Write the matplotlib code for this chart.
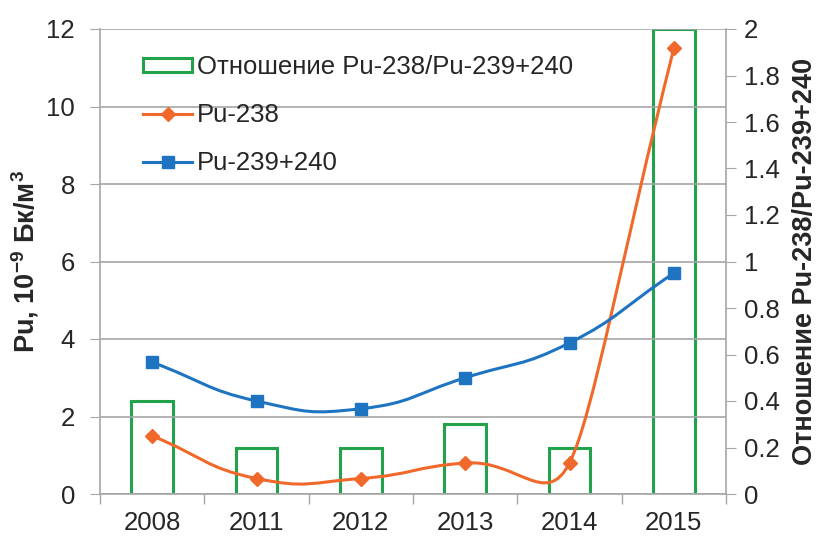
import matplotlib
matplotlib.use('Agg')
import matplotlib.pyplot as plt
import numpy as np
from matplotlib.path import Path
from matplotlib.patches import PathPatch, Patch
from matplotlib.lines import Line2D

plt.rcParams['font.family'] = ['Liberation Sans', 'DejaVu Sans']
plt.rcParams['mathtext.fontset'] = 'custom'
plt.rcParams['mathtext.rm'] = 'Liberation Sans'
plt.rcParams['mathtext.bf'] = 'Liberation Sans:bold'

# data
years = ['2008', '2011', '2012', '2013', '2014', '2015']
ratio = [0.4, 0.2, 0.2, 0.3, 0.2, 2.0]
pu238 = [1.5, 0.4, 0.4, 0.8, 0.8, 11.5]
pu239_240 = [3.4, 2.4, 2.2, 3.0, 3.9, 5.7]

GREEN = '#22a24a'
ORANGE = '#f0682a'
BLUE = '#1f74c2'
GRAY = '#a6a6a6'
TXT = '#262626'


def smooth_path(ax, x, y, s=0.5):
    """Excel-like smoothed line, bezier segments built in screen space."""
    pts = ax.transData.transform(np.column_stack([x, y]))
    n = len(pts)
    seg = [np.hypot(*(pts[i + 1] - pts[i])) for i in range(n - 1)]
    tang, arm = [], []
    for i in range(n):
        d = pts[min(i + 1, n - 1)] - pts[max(i - 1, 0)]
        tang.append(d / np.hypot(*d))
        near = [seg[j] for j in (i - 1, i) if 0 <= j < n - 1]
        arm.append(s * min(near))
    verts = [pts[0]]
    codes = [Path.MOVETO]
    for i in range(n - 1):
        verts += [pts[i] + tang[i] * arm[i], pts[i + 1] - tang[i + 1] * arm[i + 1], pts[i + 1]]
        codes += [Path.CURVE4] * 3
    verts = ax.transData.inverted().transform(np.array(verts))
    return Path(verts, codes)


fig = plt.figure(figsize=(8.23, 5.40), dpi=100)
ax_r = fig.add_axes([100 / 823, 46 / 540, 626 / 823, 465 / 540])
ax_p = ax_r.twinx()

x = np.arange(len(years))

# ratio bars (right axis)
ax_r.bar(x, ratio, width=0.4, facecolor='none', edgecolor=GREEN, linewidth=2.2)
ax_r.set_xlim(-0.5, len(years) - 0.5)
ax_r.set_ylim(0, 2)
ax_r.yaxis.set_ticks_position('right')
ax_r.yaxis.set_label_position('right')
rticks = np.arange(0, 2.01, 0.2)
ax_r.set_yticks(rticks)
ax_r.set_yticklabels(['%g' % round(v, 1) for v in rticks])
ax_r.set_xticks(x)
ax_r.set_xticklabels(years)
ax_r.set_xticks(np.arange(-0.5, len(years), 1.0), minor=True)
ax_r.tick_params(axis='x', which='major', length=0, pad=12, labelsize=18.5, labelcolor=TXT)
ax_r.tick_params(axis='x', which='minor', length=7, color=GRAY, width=1)
ax_r.tick_params(axis='y', length=7, color=GRAY, pad=6, labelsize=18.5, labelcolor=TXT)
ax_r.set_ylabel('Отношение Pu-238/Pu-239+240', fontsize=19.5, fontweight='bold',
                color=TXT, labelpad=9)
for side in ['left', 'bottom', 'right']:
    ax_r.spines[side].set_color(GRAY)
    ax_r.spines[side].set_linewidth(1.2)
ax_r.spines['top'].set_visible(False)

# Pu concentrations (left axis)
ax_p.set_ylim(0, 12)
ax_p.set_xlim(-0.5, len(years) - 0.5)
ax_p.yaxis.set_ticks_position('left')
ax_p.yaxis.set_label_position('left')
ax_p.set_yticks(np.arange(0, 13, 2))
ax_p.tick_params(axis='y', length=7, color=GRAY, pad=11, labelsize=18.5, labelcolor=TXT)
ax_p.set_ylabel(r'Pu, 10$^{\mathbf{-9}}$ Бк/м$^{\mathbf{3}}$', fontsize=19.5,
                fontweight='bold', color=TXT, labelpad=4)
for side in ax_p.spines:
    ax_p.spines[side].set_visible(False)
ax_p.set_axisbelow(True)
ax_p.yaxis.grid(True, color=GRAY, linewidth=1.2)
ax_p.patch.set_visible(False)

for vals, col, mk, ms in [(pu238, ORANGE, 'D', 7), (pu239_240, BLUE, 's', 9)]:
    ax_p.add_patch(PathPatch(smooth_path(ax_p, x, vals), facecolor='none',
                             edgecolor=col, linewidth=2.2, zorder=3))
    ax_p.plot(x, vals, linestyle='none', marker=mk, markersize=ms, color=col, zorder=4)

handles = [
    Patch(facecolor='none', edgecolor=GREEN, linewidth=2.2),
    Line2D([], [], color=ORANGE, linewidth=2.2, marker='D', markersize=7),
    Line2D([], [], color=BLUE, linewidth=2.2, marker='s', markersize=9),
]
labels = ['Отношение Pu-238/Pu-239+240', 'Pu-238', 'Pu-239+240']
ax_p.legend(handles, labels, loc='upper left', bbox_to_anchor=(0.069, 0.944),
            frameon=False, fontsize=18.5, borderpad=0, borderaxespad=0,
            handlelength=1.9, handleheight=0.45, handletextpad=0.2,
            labelspacing=0.93, labelcolor=TXT)

fig.savefig('out.png', dpi=100)
